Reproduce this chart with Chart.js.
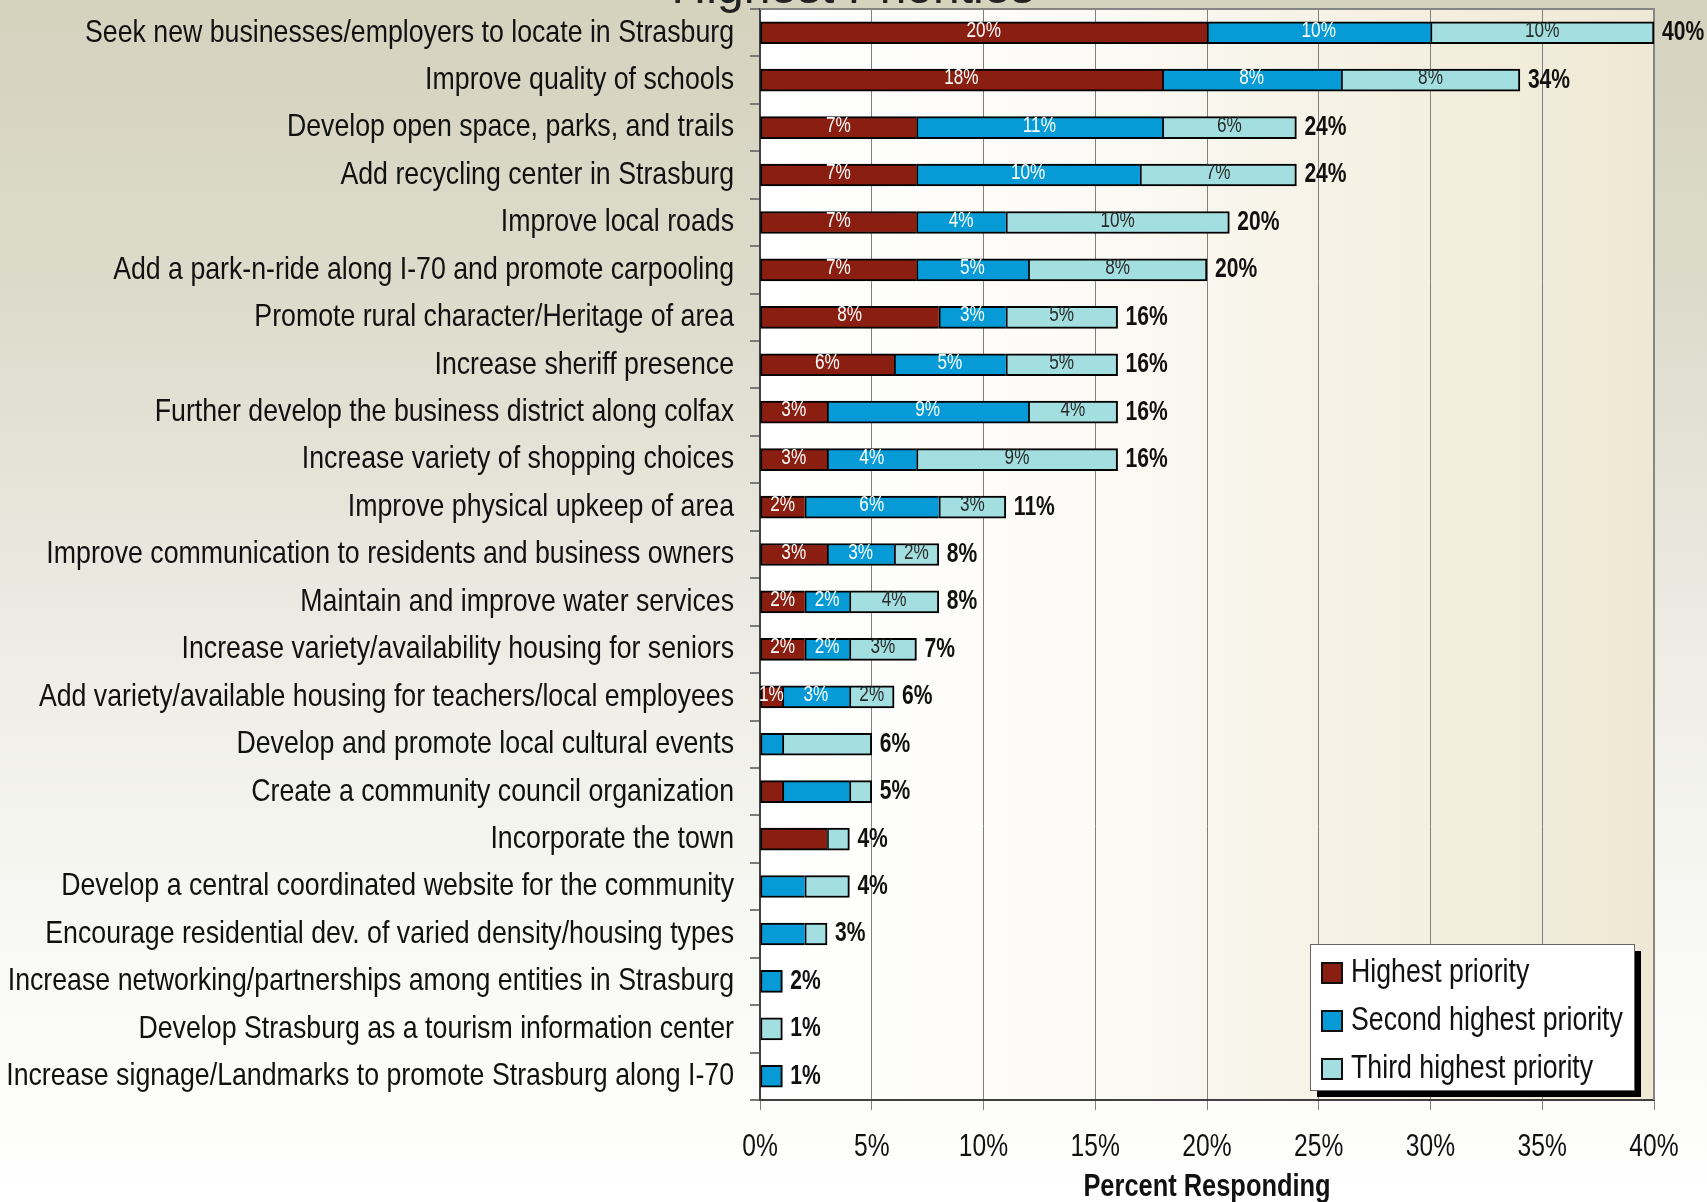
<!DOCTYPE html>
<html>
<head>
<meta charset="utf-8">
<script src="https://cdn.jsdelivr.net/npm/chart.js@4.4.1/dist/chart.umd.min.js"></script>
<style>
body { margin: 0; background: #fff; }
#wrap { width: 1707px; height: 1202px; }
</style>
</head>
<body>
<div id="wrap"><canvas id="canvas" width="1707" height="1202"></canvas></div>
<script>
var categories = [
	'Seek new businesses/employers to locate in Strasburg',
	'Improve quality of schools',
	'Develop open space, parks, and trails',
	'Add recycling center in Strasburg',
	'Improve local roads',
	'Add a park-n-ride along I-70 and promote carpooling',
	'Promote rural character/Heritage of area',
	'Increase sheriff presence',
	'Further develop the business district along colfax',
	'Increase variety of shopping choices',
	'Improve physical upkeep of area',
	'Improve communication to residents and business owners',
	'Maintain and improve water services',
	'Increase variety/availability housing for seniors',
	'Add variety/available housing for teachers/local employees',
	'Develop and promote local cultural events',
	'Create a community council organization',
	'Incorporate the town',
	'Develop a central coordinated website for the community',
	'Encourage residential dev. of varied density/housing types',
	'Increase networking/partnerships among entities in Strasburg',
	'Develop Strasburg as a tourism information center',
	'Increase signage/Landmarks to promote Strasburg along I-70'
];
var highest = [20, 18, 7, 7, 7, 7, 8, 6, 3, 3, 2, 3, 2, 2, 1, 0, 1, 3, 0, 0, 0, 0, 0];
var second  = [10, 8, 11, 10, 4, 5, 3, 5, 9, 4, 6, 3, 2, 2, 3, 1, 3, 0, 2, 2, 1, 0, 1];
var third   = [10, 8, 6, 7, 10, 8, 5, 5, 4, 9, 3, 2, 4, 3, 2, 4, 1, 1, 2, 1, 0, 1, 0];
var totals  = ['40%', '34%', '24%', '24%', '20%', '20%', '16%', '16%', '16%', '16%', '11%', '8%',
	'8%', '7%', '6%', '6%', '5%', '4%', '4%', '3%', '2%', '1%', '1%'];
var seriesNames = ['Highest priority', 'Second highest priority', 'Third highest priority'];
var xTickLabels = ['0%', '5%', '10%', '15%', '20%', '25%', '30%', '35%', '40%'];
var labelledRows = 15; // only the first 15 rows carry percentages inside the bars

var FONT = "'Liberation Sans', Arial, sans-serif";
var series = [highest, second, third];
var colors = ['#8a1f11', '#069bd6', '#a3dfe0'];

// the original uses a narrow face; squeeze Liberation Sans horizontally
function narrowText(ctx, text, x, y, align, font, squeeze) {
	ctx.save();
	ctx.translate(x, y);
	ctx.scale(squeeze, 1);
	ctx.font = font;
	ctx.textAlign = align;
	ctx.textBaseline = 'middle';
	ctx.fillText(text, 0, 0);
	ctx.restore();
}

function segBorder(c) {
	if (c.dataIndex === undefined) return 2;
	var i = c.dataIndex, d = c.datasetIndex;
	if (!series[d][i]) return 0;
	var last = true;
	for (var k = d + 1; k < series.length; k++) {
		if (series[k][i]) last = false;
	}
	return { top: 2, bottom: 2, left: 2, right: last ? 2 : 0 };
}

var background = {
	id: 'background',
	beforeDraw: function(chart) {
		var ctx = chart.ctx, a = chart.chartArea;
		ctx.save();
		var g = ctx.createLinearGradient(0, 0, 0, chart.height);
		g.addColorStop(0, '#d5d3be');
		g.addColorStop(0.25, '#dddbcb');
		g.addColorStop(0.5, '#ebeae2');
		g.addColorStop(0.75, '#f7f7f3');
		g.addColorStop(1, '#ffffff');
		ctx.fillStyle = g;
		ctx.fillRect(0, 0, chart.width, chart.height);
		var p = ctx.createLinearGradient(a.left, 0, a.right, 0);
		p.addColorStop(0, '#ffffff');
		p.addColorStop(0.35, '#fcfbf7');
		p.addColorStop(0.7, '#f5f0e2');
		p.addColorStop(1, '#efe8d4');
		ctx.fillStyle = p;
		ctx.fillRect(a.left, a.top, a.right - a.left, a.bottom - a.top);
		// title, mostly cut off by the top edge
		ctx.fillStyle = '#222';
		ctx.font = '48px ' + FONT;
		ctx.textAlign = 'center';
		ctx.textBaseline = 'alphabetic';
		ctx.fillText('Highest Priorities', 853, 3);
		ctx.restore();
	},
	beforeDatasetsDraw: function(chart) {
		var ctx = chart.ctx, a = chart.chartArea;
		ctx.save();
		ctx.strokeStyle = '#858585';
		ctx.lineWidth = 2;
		ctx.beginPath();
		ctx.moveTo(a.left, a.top);
		ctx.lineTo(a.right, a.top);
		ctx.lineTo(a.right, a.bottom);
		ctx.stroke();
		ctx.restore();
	}
};

var axisText = {
	id: 'axisText',
	afterDraw: function(chart) {
		var ctx = chart.ctx, a = chart.chartArea;
		var xs = chart.scales.x, ys = chart.scales.y;
		ctx.save();
		ctx.fillStyle = '#111';
		chart.data.labels.forEach(function(lab, i) {
			narrowText(ctx, lab, ys.right - 26, ys.getPixelForValue(i), 'right', '32px ' + FONT, 0.835);
		});
		xs.ticks.forEach(function(t, i) {
			narrowText(ctx, xTickLabels[i], xs.getPixelForTick(i), xs.top + 47, 'center', '32px ' + FONT, 0.77);
		});
		narrowText(ctx, 'Percent Responding', (a.left + a.right) / 2, xs.top + 87, 'center', 'bold 31px ' + FONT, 0.82);
		ctx.restore();
	}
};

var barLabels = {
	id: 'barLabels',
	afterDatasetsDraw: function(chart) {
		var ctx = chart.ctx;
		ctx.save();
		for (var d = 0; d < series.length; d++) {
			var meta = chart.getDatasetMeta(d);
			ctx.fillStyle = d === 2 ? '#2a2a2a' : '#ffffff';
			for (var i = 0; i < labelledRows; i++) {
				if (!series[d][i]) continue;
				var el = meta.data[i];
				narrowText(ctx, Math.round(series[d][i]) + '%', (el.x + el.base) / 2, el.y - 2, 'center', '22px ' + FONT, 0.78);
			}
		}
		// totals at the end of each stack
		var lastMeta = chart.getDatasetMeta(series.length - 1);
		ctx.fillStyle = '#111';
		for (var j = 0; j < totals.length; j++) {
			var e = lastMeta.data[j];
			narrowText(ctx, totals[j], e.x + 8, e.y, 'left', 'bold 27px ' + FONT, 0.78);
		}
		ctx.restore();
	}
};

var boxLegend = {
	id: 'boxLegend',
	afterDraw: function(chart) {
		var ctx = chart.ctx, a = chart.chartArea;
		var w = 324, h = 146;
		var x = a.right - 20 - w, y = a.bottom - 10 - h;
		ctx.save();
		ctx.fillStyle = '#000';
		ctx.fillRect(x + 7, y + 7, w, h);
		ctx.fillStyle = '#fff';
		ctx.fillRect(x, y, w, h);
		ctx.strokeStyle = '#666';
		ctx.lineWidth = 1;
		ctx.strokeRect(x + 0.5, y + 0.5, w, h);
		chart.data.datasets.forEach(function(ds, k) {
			var cy = y + 29 + k * 48;
			ctx.fillStyle = ds.backgroundColor;
			ctx.fillRect(x + 12, cy - 10, 20, 20);
			ctx.strokeStyle = '#111';
			ctx.lineWidth = 2;
			ctx.strokeRect(x + 12, cy - 10, 20, 20);
			ctx.fillStyle = '#111';
			narrowText(ctx, ds.label, x + 41, cy, 'left', '33px ' + FONT, 0.81);
		});
		ctx.restore();
	}
};

var config = {
	type: 'bar',
	data: {
		labels: categories,
		datasets: series.map(function(values, k) {
			return {
				label: seriesNames[k],
				data: values,
				backgroundColor: colors[k],
				borderColor: '#000',
				borderWidth: segBorder,
				borderSkipped: false,
				barThickness: 22
			};
		})
	},
	options: {
		indexAxis: 'y',
		responsive: false,
		animation: false,
		devicePixelRatio: 1,
		layout: { padding: { top: 9, right: 53, left: 0, bottom: 0 } },
		plugins: {
			legend: { display: false },
			tooltip: { enabled: false }
		},
		scales: {
			x: {
				stacked: true,
				min: 0,
				max: 40,
				afterFit: function(scale) { scale.height = 102; },
				ticks: { display: false, stepSize: 5, color: 'rgba(0,0,0,0)' },
				grid: { color: '#7f7f7f', lineWidth: 1, tickLength: 10, drawTicks: true },
				border: { color: '#404040', width: 2 }
			},
			y: {
				stacked: true,
				afterFit: function(scale) { scale.width = 760; },
				ticks: { display: false, autoSkip: false, color: 'rgba(0,0,0,0)' },
				grid: { drawOnChartArea: false, color: '#7a7a7a', lineWidth: 2, tickLength: 10, offset: true },
				border: { color: '#404040', width: 2 }
			}
		}
	},
	plugins: [background, axisText, barLabels, boxLegend]
};

var mychart = new Chart(document.getElementById('canvas').getContext('2d'), config);
</script>
</body>
</html>
